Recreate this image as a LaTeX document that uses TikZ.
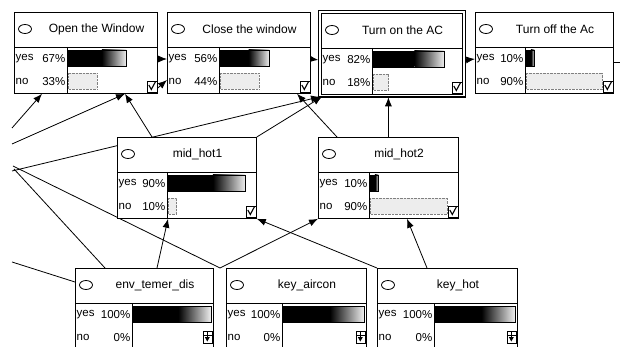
\documentclass[tikz,border=0pt]{standalone}
\usepackage{fontspec}
\setmainfont{Liberation Sans}
\usetikzlibrary{arrows.meta,positioning,calc,backgrounds}

% small icon in the lower right corner of a node
\newcommand{\checkicon}[1]{%
  \draw[thin] ($(#1.north east)+(-11,69)$) rectangle ($(#1.north east)+(-1,80)$);
  \draw[line width=1.1pt] ($(#1.north east)+(-9,73)$) -- ($(#1.north east)+(-6.5,77.5)$)
    -- ($(#1.north east)+(-2.5,70)$);
}
\newcommand{\evidenceicon}[1]{%
  \draw[thin] ($(#1.north east)+(-11,63)$) rectangle ($(#1.north east)+(-2,75)$);
  \draw[thin] ($(#1.north east)+(-11,67)$) -- ($(#1.north east)+(-2,67)$);
  \draw[thin] ($(#1.north east)+(-6.5,63)$) -- ($(#1.north east)+(-6.5,69)$);
  \fill ($(#1.north east)+(-9,69)$) -- ($(#1.north east)+(-4,69)$)
    -- ($(#1.north east)+(-6.5,73.5)$) -- cycle;
}
% #1 name, #2 top left, #3 width, #4 label column, #5 title, #6 yes, #7 no, #8 icon
\newcommand{\beliefnode}[8]{%
  \node[box, minimum width=#3pt, anchor=north west] (#1) at #2 {};
  \draw ($(#1.north west)+(0,35)$) -- ($(#1.north east)+(0,35)$);
  \draw ($(#1.north west)+(#4,35)$) -- ($(#1.south west)+(#4,0)$);
  \draw[thick] ($(#1.north west)+(11,17)$) ellipse (6.5pt and 4.5pt);
  \node[titletxt] (#1-title) at ($(#1.north west)+({(#3+22)/2},17.5)$) {#5};
  \node[txt, anchor=west] (#1-yes) at ($(#1.north west)+(1.5,46.5)$) {yes};
  \node[txt, anchor=east] (#1-yesp) at ($(#1.north west)+({#4-1.5},46.5)$) {#6\%};
  \node[txt, anchor=west] (#1-no) at ($(#1.north west)+(1.5,69.5)$) {no};
  \node[txt, anchor=east] (#1-nop) at ($(#1.north west)+({#4-1.5},69.5)$) {#7\%};
  \pgfmathsetmacro\barfull{#3-#4-3}
  \pgfmathsetmacro\barstart{#4+1}
  \pgfmathsetmacro\yesend{#4+1+\barfull*#6/100}
  \pgfmathsetmacro\yesmid{#4+1+0.58*\barfull*#6/100}
  \pgfmathsetmacro\noend{#4+1+\barfull*#7/100}
  \fill ($(#1.north west)+(\barstart,38)$) rectangle ($(#1.north west)+(\yesmid,54)$);
  \shade[left color=black, right color=black!6] ($(#1.north west)+(\yesmid,38)$)
    rectangle ($(#1.north west)+(\yesend,54)$);
  \draw[thin] ($(#1.north west)+(\barstart,38)$) rectangle ($(#1.north west)+(\yesend,54)$);
  \ifnum#7>0
    \draw[nobar] ($(#1.north west)+(\barstart,61)$) rectangle ($(#1.north west)+(\noend,77)$);
  \fi
  #8{#1}
}

\begin{document}
\begin{tikzpicture}[
    x=1pt, y=-1pt,
    box/.style={draw, fill=white, line width=0.8pt, minimum height=81pt, inner sep=0pt},
    titletxt/.style={font=\fontsize{12}{14}\selectfont, inner sep=0pt},
    txt/.style={font=\fontsize{11.5}{13}\selectfont, inner sep=0pt},
    nobar/.style={draw=black!50, fill=black!7, densely dotted},
    link/.style={line width=0.8pt},
    arr/.style={link, -{Latex[length=9pt, width=7pt]}},
]
\useasboundingbox (0,0) rectangle (620,347);

% decision nodes
\beliefnode{open}{(14,12)}{143}{53}{Open the Window}{67}{33}{\checkicon}
\beliefnode{close}{(167,12)}{143}{52}{Close the window}{56}{44}{\checkicon}
\beliefnode{acon}{(321,13)}{141}{51}{Turn on the AC}{82}{18}{\checkicon}
\draw[line width=1.6pt] ($(acon.north west)+(-2.5,-2.5)$) rectangle ($(acon.south east)+(2.5,2.5)$);
\beliefnode{acoff}{(475,12)}{138}{50}{Turn off the Ac}{10}{90}{\checkicon}

% middle nodes
\beliefnode{mid1}{(117,137)}{139}{50}{mid\_hot1}{90}{10}{\checkicon}
\beliefnode{mid2}{(318,137)}{140}{51}{mid\_hot2}{10}{90}{\checkicon}

% evidence nodes
\beliefnode{env}{(75,268)}{138}{57}{env\_temer\_dis}{100}{0}{\evidenceicon}
\beliefnode{aircon}{(226,268)}{140}{56}{key\_aircon}{100}{0}{\evidenceicon}
\beliefnode{keyhot}{(377,268)}{140}{57}{key\_hot}{100}{0}{\evidenceicon}

% links coming from outside the view
\coordinate (w1) at (12,128);
\coordinate (w2) at (12,144);
\coordinate (w3) at (12,171);
\coordinate (w4) at (13,166);
\coordinate (w5) at (14,169);
\coordinate (w6) at (12,262);
\coordinate (e1) at (620,62);

\begin{scope}[on background layer]
\fill[white] (0,0) rectangle (620,347);
\draw[arr] (w1) -- ($(open.south west)+(28,0)$);
\draw[arr] (w2) -- ($(open.south west)+(111,0)$);
\draw[arr] ($(mid1.north west)+(35,0)$) -- ($(open.south west)+(111,0)$);
\draw[arr] (w3) -- ($(acon.south west)+(-1,2)$);
\draw[arr] ($(mid2.north west)+(19,0)$) -- ($(close.south west)+(130,0)$);
\draw[arr] (mid1.north east) -- ($(acon.south west)+(1,2)$);
\draw[arr] (mid2.north) -- ($(mid2.north |- acon.south)+(0,2.5)$);
\draw[link] (w4) -- ($(aircon.north west)+(-6,0)$);
\draw[arr] ($(aircon.north west)+(-6,0)$) -- (mid2.south west);
\draw[arr] (keyhot.north west) -- (mid1.south east);
\draw[link] (w5) -- ($(env.north west)+(30,0)$);
\draw[arr] ($(env.north west)+(82,0)$) -- ($(mid1.south west)+(51,0)$);
\draw[arr] ($(keyhot.north west)+(50,0)$) -- ($(mid2.south west)+(89,0)$);
\draw[link] (w6) -- ($(env.north west)+(0,14)$);
\draw[arr] ($(open.north east)+(0,47)$) -- ($(close.north west)+(0,47)$);
\draw[arr] ($(open.north east)+(0,76)$) -- ($(close.north west)+(0,68)$);
\draw[arr, line width=1.4pt] ($(close.north east)+(0,47)$) -- ($(acon.north west)+(-2.5,47)$);
\draw[arr] ($(acon.north east)+(2.5,47)$) -- ($(acoff.north west)+(0,47)$);
\draw[link] ($(acoff.north east)+(0,50)$) -- (e1);
\end{scope}
\end{tikzpicture}
\end{document}
